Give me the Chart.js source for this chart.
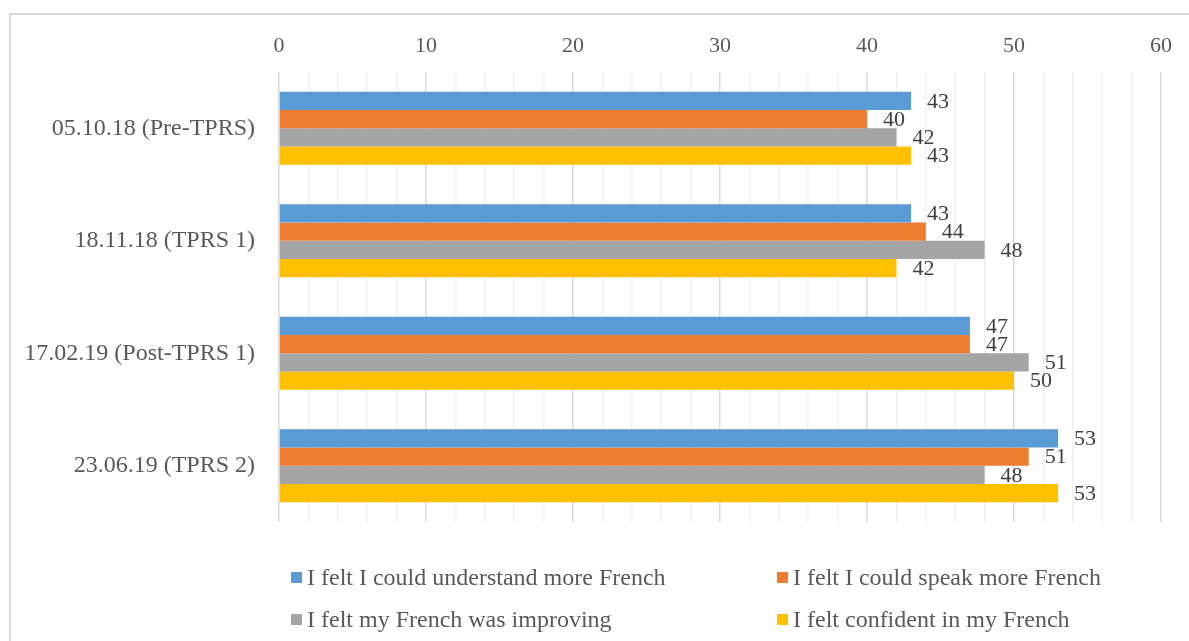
<!DOCTYPE html>
<html>
<head>
<meta charset="utf-8">
<title>TPRS survey</title>
<script src="https://cdn.jsdelivr.net/npm/chart.js@4.4.1/dist/chart.umd.min.js"></script>
<style>
  html, body { margin: 0; padding: 0; background: #fff; overflow: hidden; }
  #wrap { position: relative; width: 1189px; height: 641px; }
</style>
</head>
<body>
<div id="wrap"><canvas id="surveyChart"></canvas></div>
<script>
// survey dates
const dates = ['05.10.18 (Pre-TPRS)', '18.11.18 (TPRS 1)', '17.02.19 (Post-TPRS 1)', '23.06.19 (TPRS 2)'];

// answers per statement
const understand = [43, 43, 47, 53];
const speak = [40, 44, 47, 51];
const improving = [42, 48, 51, 48];
const confident = [43, 42, 50, 53];

const statements = [
  'I felt I could understand more French',
  'I felt I could speak more French',
  'I felt my French was improving',
  'I felt confident in my French'
];
const colours = ['#5B9BD5', '#ED7D31', '#A5A5A5', '#FFC000'];

const axisMin = 0;
const axisMax = 60;
const axisStep = 2;

const serif = '"Liberation Serif", "Times New Roman", serif';

// grey frame round the chart
const frame = {
  id: 'frame',
  beforeDraw(chart) {
    const c = chart.ctx;
    c.save();
    c.strokeStyle = '#d9d9d9';
    c.lineWidth = 2;
    c.beginPath();
    c.moveTo(10, chart.height + 5);
    c.lineTo(10, 14);
    c.lineTo(chart.width + 5, 14);
    c.stroke();
    c.restore();
  }
};

// numbers at the end of each bar
const valueLabels = {
  id: 'valueLabels',
  afterDatasetsDraw(chart) {
    const c = chart.ctx;
    c.save();
    c.font = '22px ' + serif;
    c.fillStyle = '#404040';
    c.textBaseline = 'middle';
    c.textAlign = 'left';
    chart.data.datasets.forEach(function (ds, i) {
      chart.getDatasetMeta(i).data.forEach(function (bar, j) {
        c.fillText(ds.data[j], bar.x + 16, bar.y + 1);
      });
    });
    c.restore();
  }
};

// two column legend under the plot
const legendGrid = {
  id: 'legendGrid',
  afterDraw(chart) {
    const c = chart.ctx;
    const colX = [291, 777];
    const rowY = [578, 620];
    c.save();
    c.font = '24px ' + serif;
    c.textBaseline = 'middle';
    chart.data.datasets.forEach(function (ds, i) {
      const x = colX[i % 2];
      const y = rowY[Math.floor(i / 2)];
      c.fillStyle = ds.backgroundColor;
      c.fillRect(x, y - 6, 11, 11);
      c.fillStyle = '#595959';
      c.fillText(ds.label, x + 16, y + 1);
    });
    c.restore();
  }
};

const series = [understand, speak, improving, confident];

const ctx = document.getElementById('surveyChart').getContext('2d');
const chart = new Chart(ctx, {
  type: 'bar',
  data: {
    labels: dates,
    datasets: series.map(function (values, i) {
      return {
        label: statements[i],
        data: values,
        backgroundColor: colours[i],
        categoryPercentage: 0.65,
        barPercentage: 1
      };
    })
  },
  options: {
    indexAxis: 'y',
    responsive: true,
    maintainAspectRatio: false,
    animation: false,
    layout: { padding: { top: 0, left: 0, right: 28, bottom: 119 } },
    plugins: {
      legend: { display: false },
      tooltip: { enabled: false }
    },
    scales: {
      x: {
        position: 'top',
        min: axisMin,
        max: axisMax,
        border: { display: false },
        grid: {
          drawTicks: false,
          lineWidth: 1.5,
          color: function (c) {
            return c.tick && c.tick.value % 10 === 0 ? '#d9d9d9' : '#f0f0f0';
          }
        },
        ticks: {
          stepSize: axisStep,
          autoSkip: false,
          maxRotation: 0,
          padding: 13,
          color: '#595959',
          font: { family: serif, size: 22 },
          callback: function (v) { return v % 10 === 0 ? v : ''; }
        },
        afterFit: function (scale) { scale.height = 72; }
      },
      y: {
        border: { display: false },
        grid: { display: false, drawTicks: false },
        ticks: {
          padding: 24,
          color: '#595959',
          font: { family: serif, size: 24 }
        },
        afterFit: function (scale) { scale.width = 279; }
      }
    }
  },
  plugins: [frame, valueLabels, legendGrid]
});
</script>
</body>
</html>
